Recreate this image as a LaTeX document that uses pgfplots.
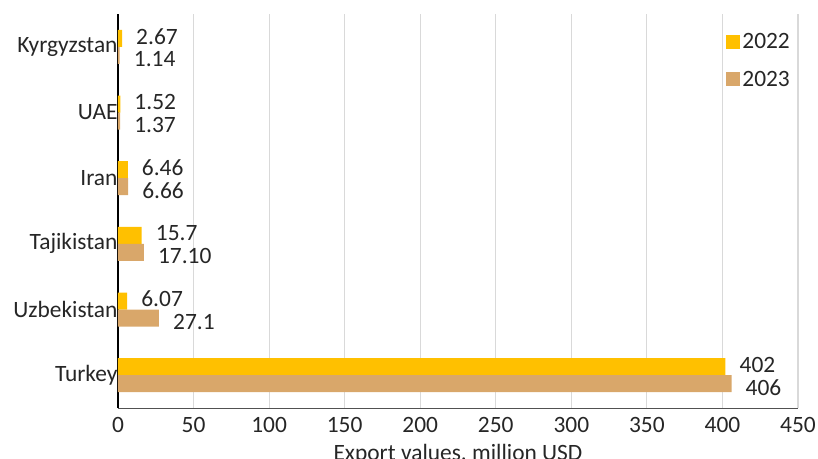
\documentclass[border=0pt]{standalone}
\usepackage{pgfplots}
\pgfplotsset{compat=1.18}
\usepackage{pgfplotstable}
\usepackage{fontspec}
\setmainfont{Carlito}
\definecolor{cA}{HTML}{FFC000}
\definecolor{cB}{RGB}{217,167,106}
\definecolor{gridc}{HTML}{D9D9D9}
\definecolor{txt}{HTML}{262626}
\pgfplotstableread{
y x lab
0 402 402
1 6.07 6.07
2 15.7 15.7
3 6.46 6.46
4 1.52 1.52
5 2.67 2.67
}\dataA
\pgfplotstableread{
y x lab
0 406 406
1 27.1 27.1
2 17.10 17.10
3 6.66 6.66
4 1.37 1.37
5 1.14 1.14
}\dataB
\begin{document}
\begin{tikzpicture}
\begin{axis}[
  scale only axis,
  width=680bp, height=394bp,
  xmin=0, xmax=450,
  ymin=-0.5, ymax=5.5,
  xtick={0,50,...,450},
  ytick={0,1,2,3,4,5},
  yticklabels={Turkey,Uzbekistan,Tajikistan,Iran,UAE,Kyrgyzstan},
  xmajorgrids, grid style={gridc, line width=1.2pt},
  axis x line*=bottom, axis y line*=left,
  x axis line style={draw=txt!80, line width=1pt, -},
  y axis line style={draw=black, line width=1.2pt, -},
  major tick length=0pt,
  tick style={draw=none},
  /pgf/number format/assume math mode=true,
  ticklabel style={font=\fontsize{23.5}{27}\selectfont, text=txt},
  xticklabel style={yshift=-6bp},
  yticklabel style={xshift=3bp},
  xlabel={Export values, million USD},
  xlabel style={font=\fontsize{23.5}{27}\selectfont, text=txt, yshift=-5bp},
  xbar, bar width=17bp,
  point meta=explicit symbolic,
  nodes near coords,
  nodes near coords style={font=\fontsize{23.5}{27}\selectfont, text=txt, anchor=west, inner sep=0pt, xshift=14bp},
  legend style={at={(0.89,0.962)}, anchor=north west, draw=none, fill=none,
    font=\fontsize{23.5}{27}\selectfont, text=txt, row sep=17bp},
  legend cell align=left,
  clip=false,
]
\addplot[fill=cA, draw=none, bar shift=8.5bp,
  nodes near coords style={yshift=2bp},
  legend image code/.code={\fill[cA] (0bp,-7bp) rectangle (14bp,7bp);}]
  table[x=x, y=y, meta=lab] {\dataA};
\addlegendentry{2022}
\addplot[fill=cB, draw=none, bar shift=-8.5bp,
  nodes near coords style={yshift=-4bp},
  legend image code/.code={\fill[cB] (0bp,-7bp) rectangle (14bp,7bp);}]
  table[x=x, y=y, meta=lab] {\dataB};
\addlegendentry{2023}
\end{axis}
\pgfresetboundingbox
\path[use as bounding box] (-118bp,-51bp) rectangle (700bp,408bp);
\end{tikzpicture}
\end{document}
